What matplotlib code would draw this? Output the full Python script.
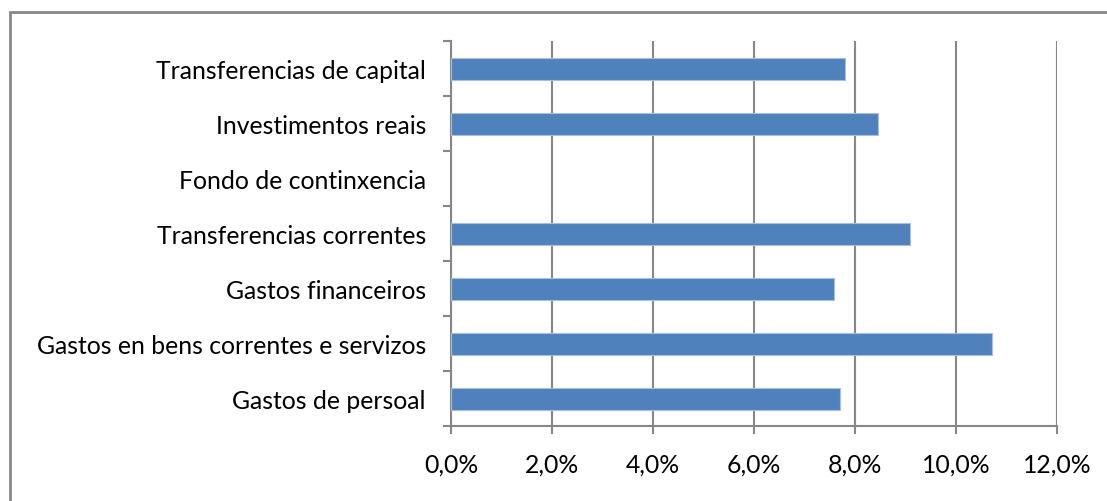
import numpy as np
import matplotlib.pyplot as plt
from matplotlib.patches import Rectangle
from matplotlib.ticker import FuncFormatter

# Categories listed bottom to top
categories = [
    "Gastos de persoal",
    "Gastos en bens correntes e servizos",
    "Gastos financeiros",
    "Transferencias correntes",
    "Fondo de continxencia",
    "Investimentos reais",
    "Transferencias de capital",
]
values = [7.70, 10.71, 7.58, 9.09, 0.0, 8.46, 7.80]  # percent
x_ticks = [0, 2, 4, 6, 8, 10, 12]

plt.rcParams['font.family'] = ['Lato', 'DejaVu Sans']
grey = '#878787'
fsize = 17.8

fig = plt.figure(figsize=(11.07, 5.02), dpi=100)

# outer chart frame (runs off the right/bottom edge in the reference)
fig.patches.append(Rectangle((10 / 1107, -0.1), 1.2, 1 - 13 / 502 + 0.1,
                             transform=fig.transFigure, fill=False,
                             edgecolor=grey, linewidth=2.0))

ax = fig.add_axes([451 / 1107, 1 - 427 / 502, 606 / 1107, 385 / 502])

y = np.arange(len(categories))
ax.barh(y, values, height=0.4, color='#4F81BD', edgecolor='#A7C0DE',
        linewidth=[0.8 if v > 0 else 0 for v in values], zorder=3)

ax.set_xlim(0, 12)
ax.set_ylim(-0.5, len(categories) - 0.5)
ax.set_xticks(x_ticks)
ax.xaxis.set_major_formatter(FuncFormatter(lambda v, p: f"{v:.1f}%".replace('.', ',')))
ax.grid(axis='x', color=grey, linewidth=1.5, zorder=0)

ax.set_yticks(y)
ax.set_yticklabels(categories)
ax.set_yticks(np.arange(-0.5, len(categories)), minor=True)
ax.tick_params(axis='y', which='major', length=0, pad=18, labelsize=fsize)
ax.tick_params(axis='y', which='minor', length=6, width=1.5, color=grey)
ax.tick_params(axis='x', length=6, width=1.5, color=grey, pad=13, labelsize=fsize)

for s in ['top', 'right']:
    ax.spines[s].set_visible(False)
for s in ['left', 'bottom']:
    ax.spines[s].set_color(grey)
    ax.spines[s].set_linewidth(1.5)

fig.savefig('out.png', dpi=100)
